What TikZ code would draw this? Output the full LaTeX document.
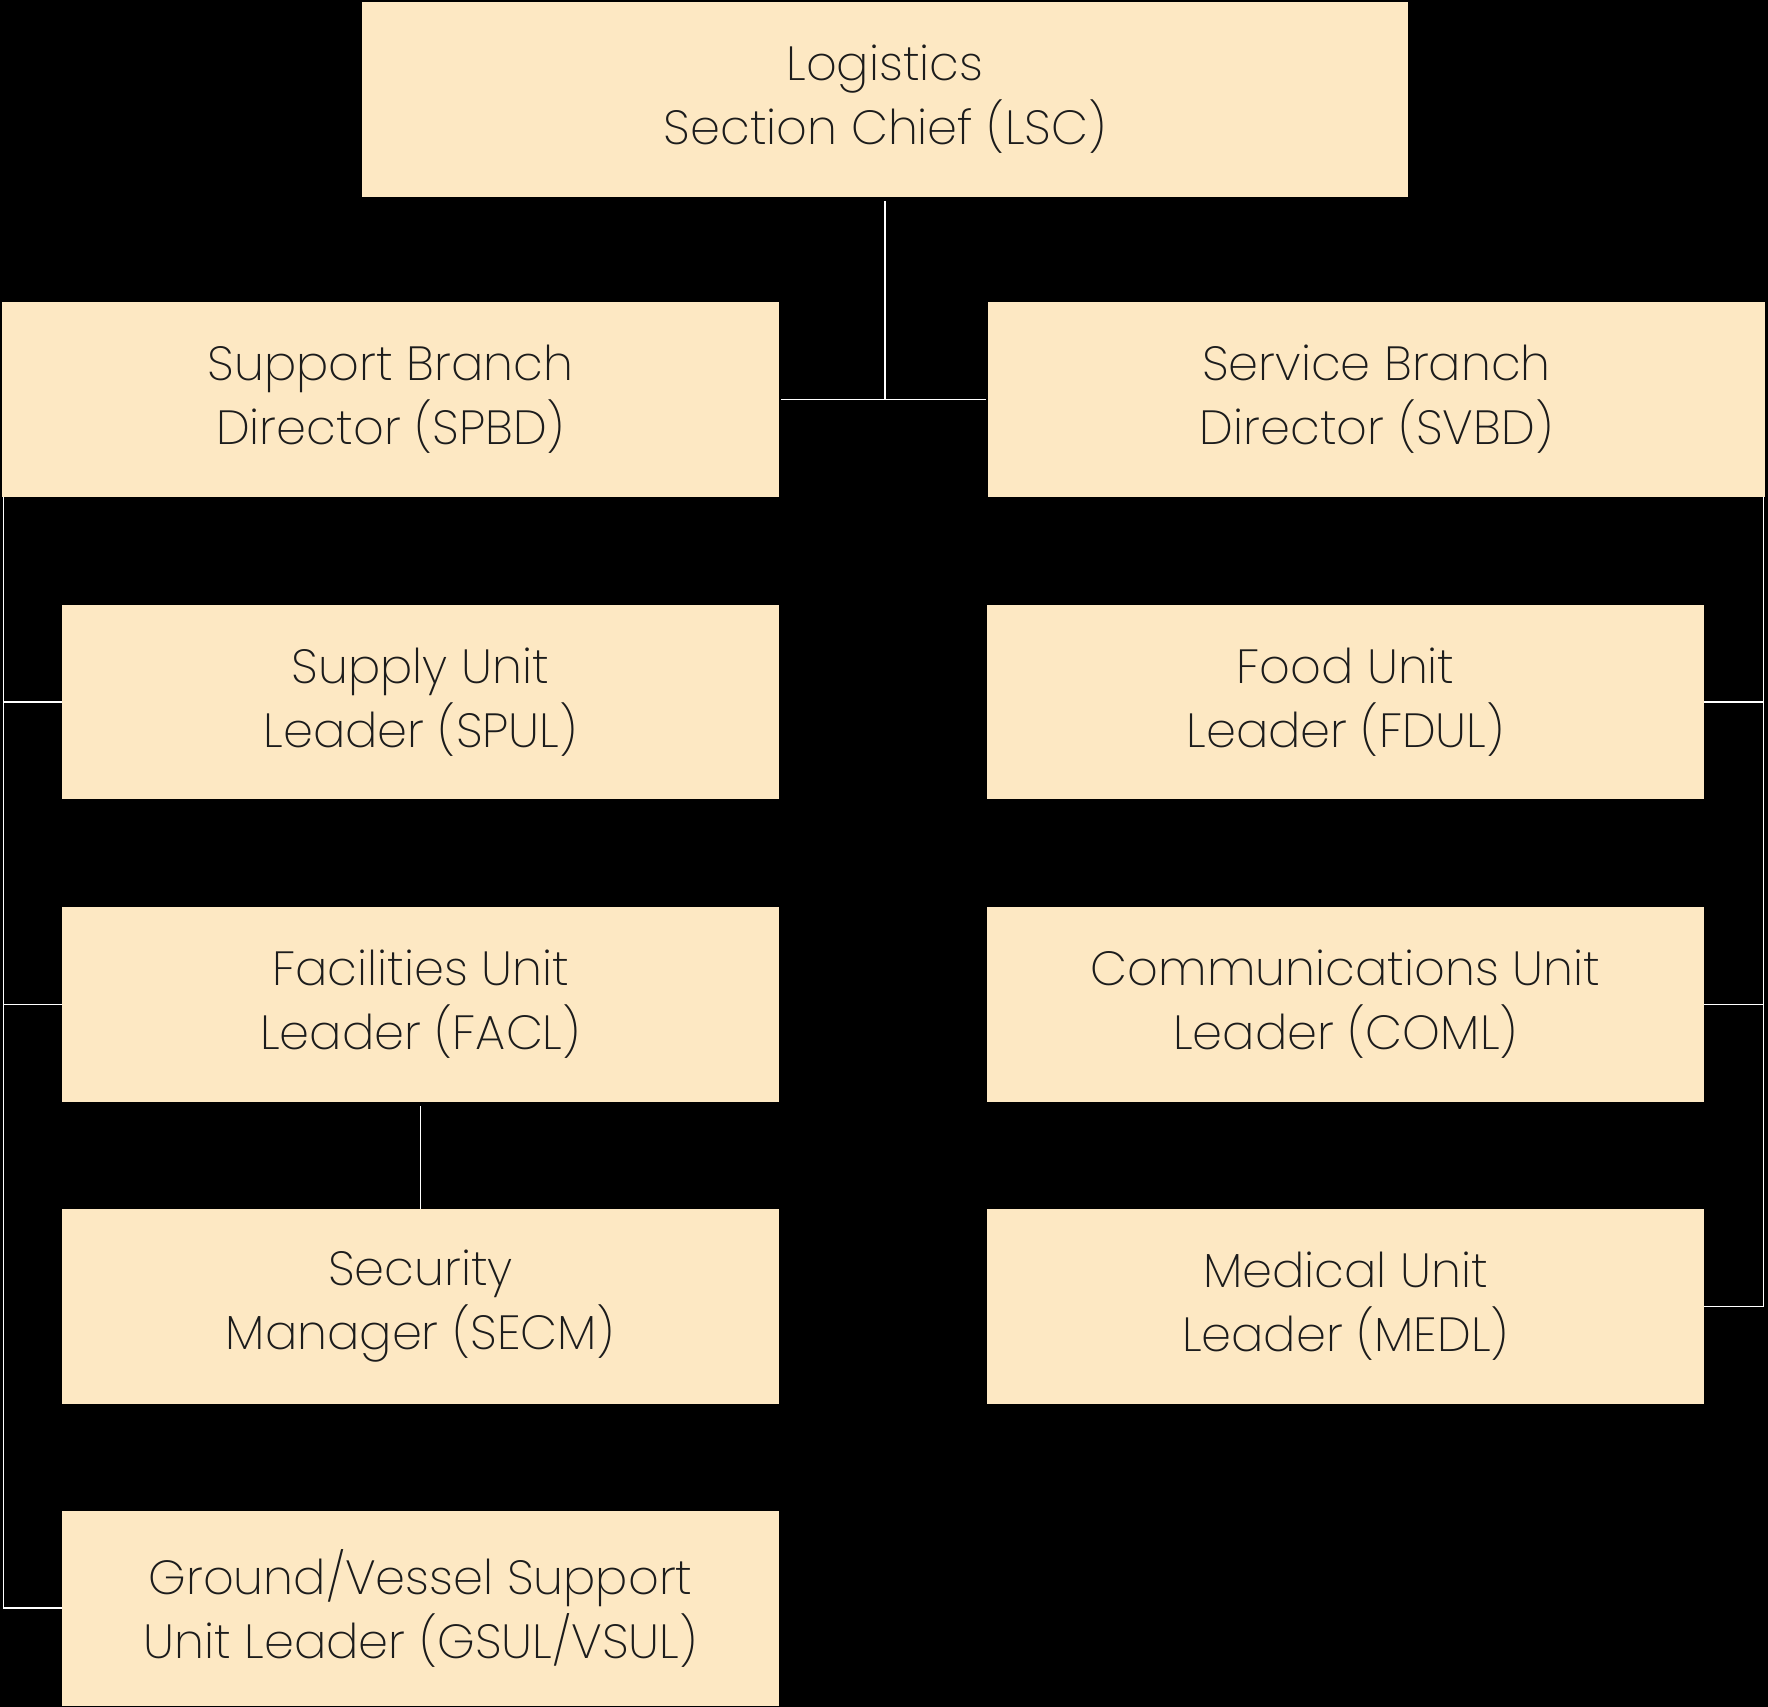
\documentclass[tikz,border=0pt]{standalone}
\usepackage{fontspec}
\setmainfont{Poppins}[UprightFont=* ExtraLight]
\definecolor{boxfill}{HTML}{FDE8C3}
\definecolor{boxtext}{HTML}{1C1C1C}

\begin{document}
\begin{tikzpicture}[x=0.02cm, y=-0.02cm,
	unitbox/.style={rectangle, fill=boxfill, text=boxtext, align=center, inner sep=0pt, minimum height=3.9cm, font=\fontsize{27.3}{36.4}\selectfont},
	chief/.style={unitbox, minimum width=20.92cm},
	branch/.style={unitbox, minimum width=15.54cm},
	unit/.style={unitbox, minimum width=14.34cm},
	link/.style={draw=white, line width=1pt}]
	\fill[black] (0,0) rectangle (1768,1707);
	% section chief and branches
	\node[chief] (lsc) at (885,99.5) {Logistics\\Section Chief (LSC)};
	\node[branch] (spbd) at (390.5,399.5) {Support Branch\\Director (SPBD)};
	\node[branch] (svbd) at (1376.5,399.5) {Service Branch\\Director (SVBD)};
	% support branch units
	\node[unit] (spul) at (420.5,702) {Supply Unit\\Leader (SPUL)};
	\node[unit] (facl) at (420.5,1004.5) {Facilities Unit\\Leader (FACL)};
	\node[unit] (secm) at (420.5,1306.5) {Security\\Manager (SECM)};
	\node[unit] (gsul) at (420.5,1608) {Ground/Vessel Support\\Unit Leader (GSUL/VSUL)};
	% service branch units
	\node[unit] (fdul) at (1345.5,702) {Food Unit\\Leader (FDUL)};
	\node[unit] (coml) at (1345.5,1004.5) {Communications Unit\\Leader (COML)};
	\node[unit] (medl) at (1345.5,1306.5) {Medical Unit\\Leader (MEDL)};
	% connectors
	\draw[link] ([yshift=-2pt]lsc.south) -- (lsc.south |- spbd.east);
	\draw[link] ([xshift=1pt]spbd.east) -- ([xshift=-1pt]svbd.east -| svbd.west);
	\coordinate (ltrunk) at ([xshift=1pt]spbd.south west);
	\coordinate (rtrunk) at ([xshift=-1pt]svbd.south east);
	\draw[link] (ltrunk) |- (gsul.west);
	\draw[link] (ltrunk |- spul.west) -- (spul.west);
	\draw[link] (ltrunk |- facl.west) -- (facl.west);
	\draw[link] ([yshift=-2pt]facl.south) -- (secm.north);
	\draw[link] (rtrunk) |- (medl.east);
	\draw[link] (rtrunk |- fdul.east) -- (fdul.east);
	\draw[link] (rtrunk |- coml.east) -- (coml.east);
\end{tikzpicture}
\end{document}
